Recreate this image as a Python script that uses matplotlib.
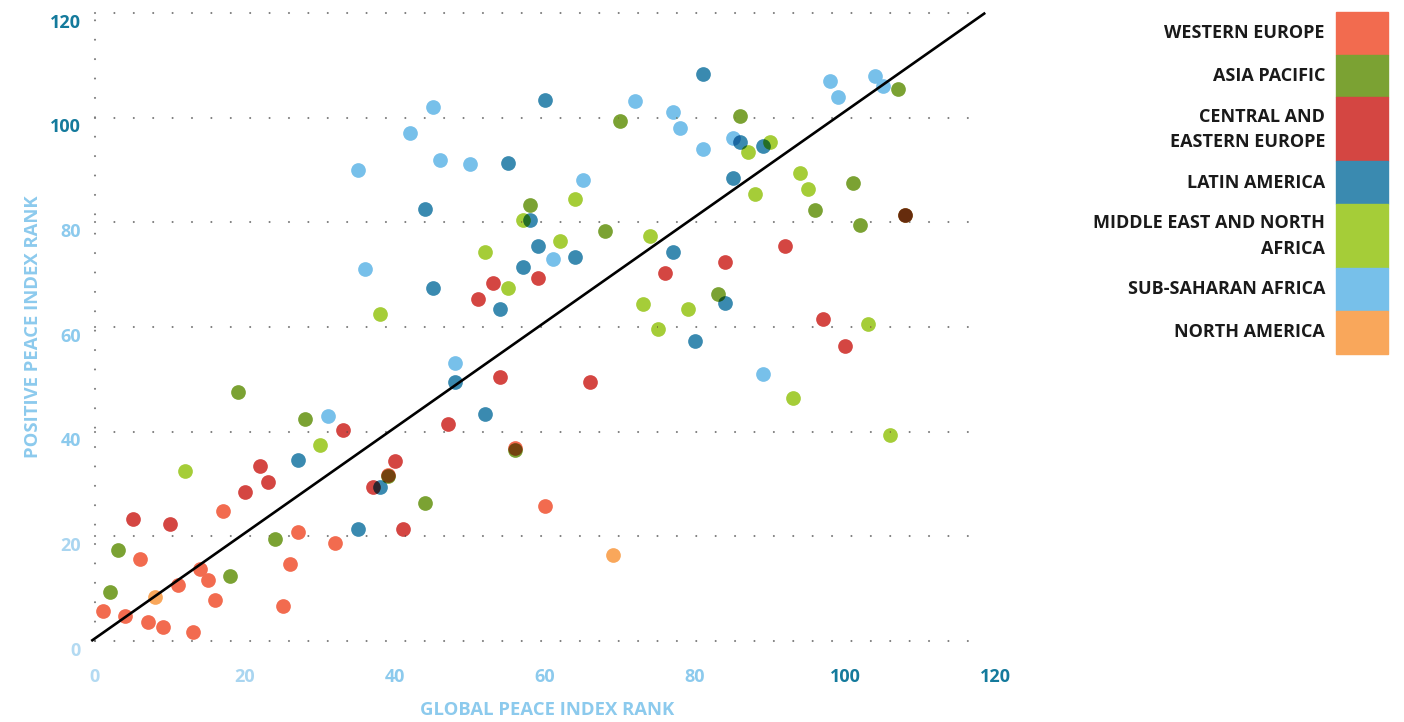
import numpy as np
import matplotlib.pyplot as plt

plt.rcParams['font.family'] = ['Open Sans', 'DejaVu Sans']

regions = ['WESTERN EUROPE', 'ASIA PACIFIC', 'CENTRAL AND\nEASTERN EUROPE', 'LATIN AMERICA',
           'MIDDLE EAST AND NORTH\nAFRICA', 'SUB-SAHARAN AFRICA', 'NORTH AMERICA']
colors = ['#f26b4f', '#7ba233', '#d44642', '#3a8ab0', '#a5cd38', '#77c0ea', '#f9a75b']

# global peace index rank (x) vs positive peace index rank (y)
we_x = [1, 4, 6, 7, 9, 11, 13, 14, 15, 16, 17, 25, 26, 27, 32, 39, 56, 60]
we_y = [5.8, 4.8, 15.7, 3.7, 2.7, 10.7, 1.8, 13.8, 11.7, 7.8, 24.8, 6.7, 14.8, 20.8, 18.8, 31.7, 36.8, 25.8]

ap_x = [2, 3, 18, 19, 24, 28, 39, 44, 56, 58, 68, 70, 83, 86, 96, 101, 102, 107, 108]
ap_y = [9.4, 17.4, 12.4, 47.5, 19.4, 42.4, 31.5, 26.4, 36.5, 83.4, 78.4, 99.4, 66.4, 100.4, 82.4, 87.5, 79.4, 105.4, 81.4]

cee_x = [5, 10, 20, 22, 23, 33, 37, 40, 41, 47, 51, 53, 54, 59, 66, 76, 84, 92, 97, 100, 108]
cee_y = [23.4, 22.4, 28.4, 33.4, 30.4, 40.4, 29.5, 34.4, 21.4, 41.4, 65.4, 68.4, 50.4, 69.4, 49.4, 70.4, 72.4, 75.4, 61.5, 56.4, 81.4]

la_x = [27, 35, 38, 44, 45, 48, 52, 54, 55, 57, 58, 59, 60, 64, 77, 80, 81, 84, 85, 86, 89]
la_y = [34.5, 21.4, 29.4, 82.5, 67.5, 49.4, 43.4, 63.4, 91.4, 71.4, 80.5, 75.5, 103.4, 73.4, 74.4, 57.4, 108.4, 64.5, 88.4, 95.4, 94.5]

mena_x = [12, 30, 38, 52, 55, 57, 62, 64, 73, 74, 75, 79, 87, 88, 90, 93, 94, 95, 103, 106]
mena_y = [32.4, 37.4, 62.4, 74.4, 67.4, 80.5, 76.4, 84.4, 64.4, 77.4, 59.7, 63.4, 93.4, 85.4, 95.4, 46.4, 89.4, 86.4, 60.5, 39.4]

ssa_x = [31, 35, 36, 42, 45, 46, 48, 50, 61, 65, 72, 77, 78, 81, 85, 89, 98, 99, 104, 105]
ssa_y = [43, 90, 71.1, 97, 102.1, 92, 53.1, 91.1, 73, 88.1, 103.1, 101, 98.1, 94, 96.2, 51, 107.1, 104, 108, 106]

na_x = [8, 69]
na_y = [8.5, 16.4]

fit_slope = 1.007
fit_intercept = 0.5
fit_range = [-0.5, 118.7]

ticks = [0, 20, 40, 60, 80, 100, 120]
tick_colors = ['#b3daf2', '#a9d5f0', '#8ccaed', '#8ccaed', '#8ccaed', '#147a9c', '#147a9c']

series = [(we_x, we_y), (ap_x, ap_y), (cee_x, cee_y), (la_x, la_y),
          (mena_x, mena_y), (ssa_x, ssa_y), (na_x, na_y)]

fig = plt.figure(figsize=(14.04, 7.22), dpi=100)
W, H = 1404, 722
# axes placed so that 0 -> px 95 and 120 -> px 995 horizontally, 0 -> 641 and 120 -> 13 vertically
left_px, right_px = 95 - 2 * 7.5, 995 + 2 * 7.5
top_px, bot_px = 13 - 2 * 5.233, 641 + 2 * 5.233
ax = fig.add_axes([left_px / W, 1 - bot_px / H, (right_px - left_px) / W, (bot_px - top_px) / H])
ax.set_xlim(-2, 122)
ax.set_ylim(-2, 122)
ax.axis('off')

# dotted grid
dots = (0, (0.01, 9.3))
for t in ticks:
    ax.plot([0, 118], [t, t], color='#7a7a7a', lw=1.5, linestyle=dots,
            dash_capstyle='round', zorder=1)
ax.plot([0, 0], [0, 120], color='#7a7a7a', lw=1.5, linestyle=dots,
        dash_capstyle='round', zorder=1)

scatters = []
for (xs, ys), c in zip(series, colors):
    sc = ax.scatter(xs, ys, s=112, color=c, linewidths=0, zorder=3)
    scatters.append(sc)

fx = np.array(fit_range)
ax.plot(fx, fit_slope * fx + fit_intercept, color='black', lw=1.9, zorder=4, solid_capstyle='butt')

# tick labels
for t, c in zip(ticks, tick_colors):
    ax.annotate(str(t), (0, t), xytext=(-10, -7), textcoords='offset points',
                ha='right', va='center', fontsize=13, fontweight='bold', color=c)
    ax.annotate(str(t), (t, 0), xytext=(0, -26), textcoords='offset points',
                ha='center', va='center', fontsize=13, fontweight='bold', color=c)

fig.text(33 / W, 1 - 327 / H, 'POSITIVE PEACE INDEX RANK', rotation=90, ha='center', va='center',
         fontsize=13.3, fontweight='bold', color='#8ccaed')
fig.text(547 / W, 1 - 710 / H, 'GLOBAL PEACE INDEX RANK', ha='center', va='center',
         fontsize=13.3, fontweight='bold', color='#8ccaed')

# legend as coloured blocks
y_px = 12
for name, c in zip(regions, colors):
    h = 64 if '\n' in name else 42.7
    fig.patches.append(plt.Rectangle((1336 / W, 1 - (y_px + h) / H), 52 / W, h / H,
                                     transform=fig.transFigure, color=c, figure=fig))
    fig.text(1325 / W, 1 - (y_px + h / 2) / H, name, ha='right', va='center', fontsize=13,
             fontweight='bold', color='#1a1a1a', linespacing=1.55)
    y_px += h

# overlapping markers blend by multiplication, as in the original
def grab():
    fig.canvas.draw()
    return np.asarray(fig.canvas.buffer_rgba())[..., :3].astype(float) / 255

for sc in scatters:
    sc.set_visible(False)
base = grab()
result = base.copy()
safe = np.where(base > 0.02, base, 1.0)
for sc in scatters:
    sc.set_visible(True)
    layer = grab()
    result *= np.where(base > 0.02, np.clip(layer / safe, 0, 1), 1.0)
    sc.set_visible(False)
for sc in scatters:
    sc.set_visible(True)

fig.figimage(result, xo=0, yo=0, origin='upper', zorder=10)
fig.savefig('out.png', dpi=100)
